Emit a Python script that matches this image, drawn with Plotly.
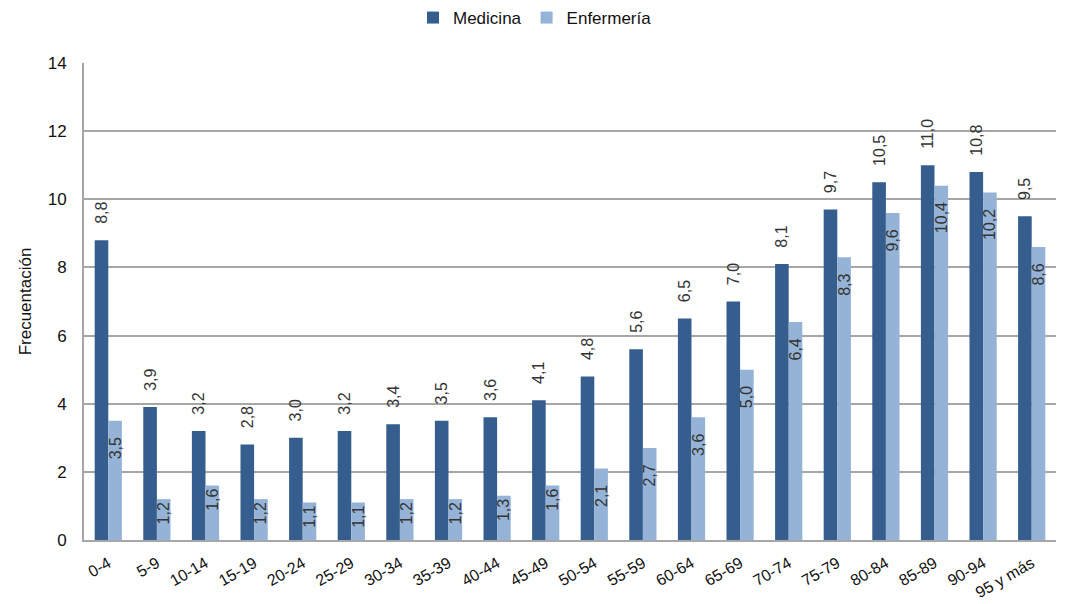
import plotly.graph_objects as go

categorias = ["0-4", "5-9", "10-14", "15-19", "20-24", "25-29", "30-34", "35-39",
              "40-44", "45-49", "50-54", "55-59", "60-64", "65-69", "70-74",
              "75-79", "80-84", "85-89", "90-94", "95 y más"]
medicina = [8.8, 3.9, 3.2, 2.8, 3.0, 3.2, 3.4, 3.5, 3.6, 4.1, 4.8, 5.6, 6.5, 7.0,
            8.1, 9.7, 10.5, 11.0, 10.8, 9.5]
enfermeria = [3.5, 1.2, 1.6, 1.2, 1.1, 1.1, 1.2, 1.2, 1.3, 1.6, 2.1, 2.7, 3.6, 5.0,
              6.4, 8.3, 9.6, 10.4, 10.2, 8.6]
y_ticks = [0, 2, 4, 6, 8, 10, 12, 14]

FONT = "Liberation Sans, Arial, Helvetica, sans-serif"
TXT = "#333333"
NB = "\u00a0"


def fmt(v):
    return f"{v:.1f}".replace(".", ",")


# outside labels sit a little above the bar top
med_text = [NB * 3 + fmt(v) for v in medicina]
# inside labels sit a little below the bar top when there is room
enf_text = [fmt(v) + (NB * 3 if v >= 2 else "") for v in enfermeria]

fig = go.Figure()
fig.add_trace(go.Bar(
    x=categorias, y=medicina, name="Medicina",
    marker=dict(color="#355E8F", line=dict(width=0)),
    text=med_text, texttemplate="%{text}", textposition="outside", textangle=-90,
    constraintext="none",
    textfont=dict(family=FONT, size=16, color=TXT), cliponaxis=False,
))
fig.add_trace(go.Bar(
    x=categorias, y=enfermeria, name="Enfermería",
    marker=dict(color="#95B3D7", line=dict(width=0)),
    text=enf_text, texttemplate="%{text}", textposition="inside", insidetextanchor="end",
    textangle=-90, constraintext="none",
    textfont=dict(family=FONT, size=16, color=TXT),
))

fig.update_layout(
    width=1066, height=604,
    margin=dict(l=84, r=10, t=63, b=64),
    paper_bgcolor="white", plot_bgcolor="white",
    barmode="group", bargap=0.44, bargroupgap=0,
    font=dict(family=FONT, size=16, color="#111111"),
    legend=dict(orientation="h", x=0.464, xanchor="center", y=1.0, yref="container",
                yanchor="top", font=dict(size=17, color="#111111"),
                itemwidth=30, traceorder="normal"),
    showlegend=True,
)
fig.update_xaxes(
    tickangle=-30, showgrid=False, showline=True, linecolor="#A6A6A6", linewidth=2,
    ticks="", tickfont=dict(size=16, color="#111111"), ticklabelstandoff=6,
    automargin=False,
)
fig.update_yaxes(
    range=[0, 14], tickvals=y_ticks, showgrid=True, gridcolor="#A6A6A6", gridwidth=2,
    showline=True, linecolor="#A6A6A6", linewidth=2, ticks="", zeroline=False,
    tickfont=dict(size=17, color="#111111"), ticklabelstandoff=12,
    title=dict(text="Frecuentación", font=dict(size=17, color="#111111"), standoff=12),
    automargin=False,
)

fig.write_html("out.html")
